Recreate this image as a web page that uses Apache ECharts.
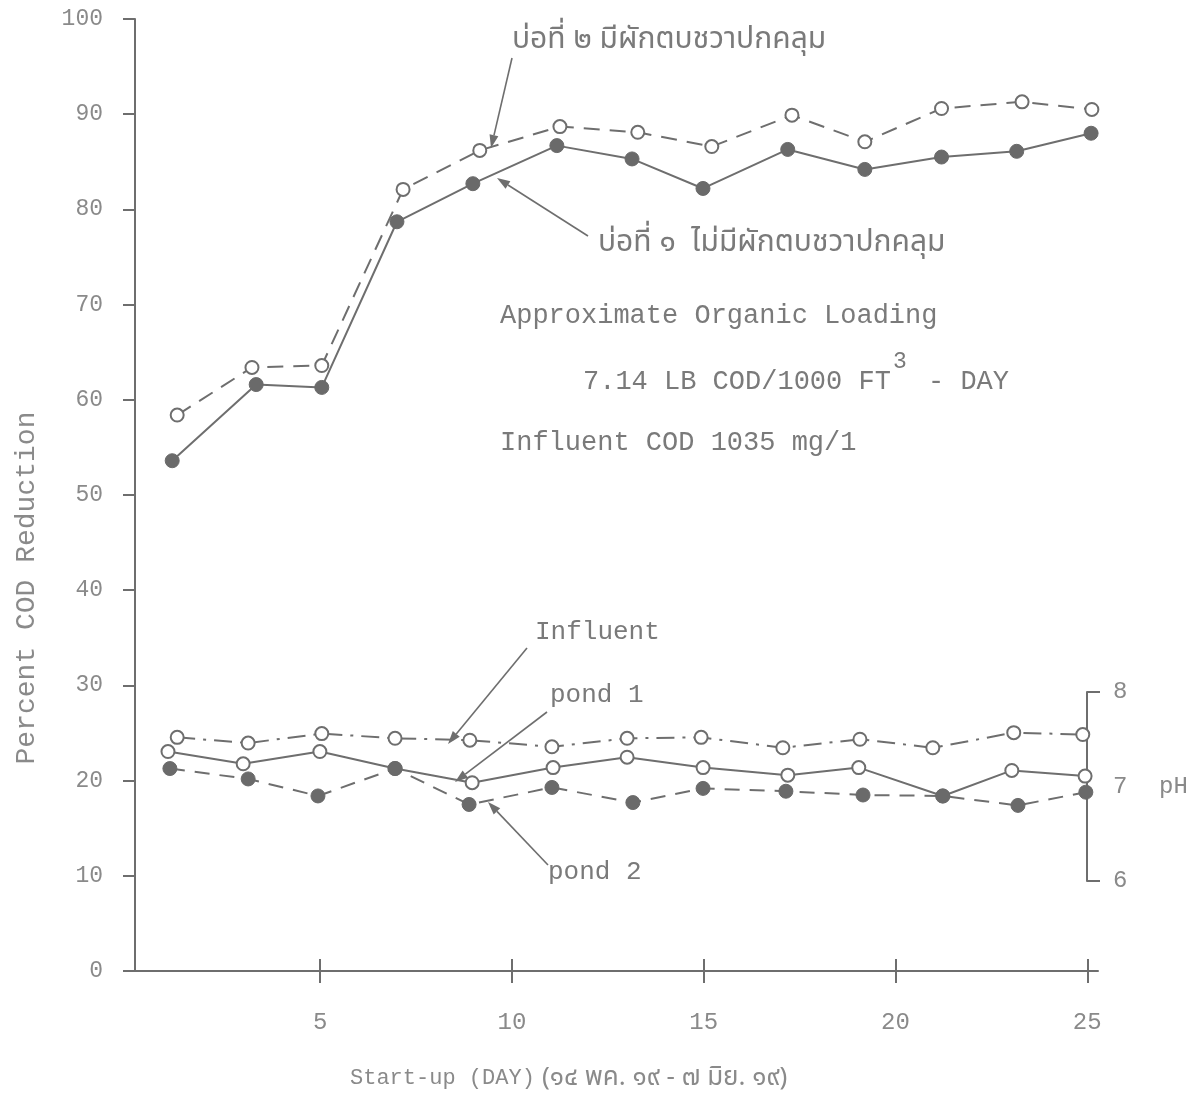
<!DOCTYPE html>
<html><head><meta charset="utf-8">
<script src="https://cdn.jsdelivr.net/npm/echarts@6/dist/echarts.min.js"></script>
<style>html,body{margin:0;padding:0;background:#fff}#c{width:1193px;height:1100px}</style>
</head><body><div id="c"></div><script>
// ---- tick labels ----
const xTickDays = [5, 10, 15, 20, 25];
const phTickValues = [6, 8];
// ---- COD reduction (%) ----
const pond2CodDays   = [1.27, 3.22, 5.04, 7.16, 9.16, 11.25, 13.28, 15.21, 17.3, 19.2, 21.2, 23.3, 25.12];
const pond2CodValues = [58.4, 63.4, 63.6, 82.1, 86.2, 88.7, 88.1, 86.6, 89.9, 87.1, 90.6, 91.3, 90.5];
const pond1CodDays   = [1.14, 3.33, 5.04, 7.0, 8.98, 11.17, 13.13, 14.98, 17.19, 19.2, 21.2, 23.16, 25.1];
const pond1CodValues = [53.6, 61.6, 61.3, 78.7, 82.7, 86.7, 85.3, 82.2, 86.3, 84.2, 85.5, 86.1, 88.0];
// ---- pH ----
const influentPhDays = [1.27, 3.12, 5.04, 6.95, 8.9, 11.04, 13.0, 14.93, 17.06, 19.07, 20.97, 23.08, 24.88];
const influentPh     = [7.52, 7.46, 7.56, 7.51, 7.49, 7.42, 7.51, 7.52, 7.41, 7.50, 7.41, 7.57, 7.55];
const pond1PhDays    = [1.03, 2.99, 4.99, 6.95, 8.96, 11.07, 13.0, 14.98, 17.19, 19.04, 21.23, 23.03, 24.94];
const pond1Ph        = [7.37, 7.24, 7.37, 7.19, 7.04, 7.20, 7.31, 7.20, 7.12, 7.20, 6.90, 7.17, 7.11];
const pond2PhDays    = [1.08, 3.12, 4.94, 6.95, 8.88, 11.04, 13.15, 14.98, 17.14, 19.15, 21.23, 23.19, 24.96];
const pond2Ph        = [7.19, 7.08, 6.90, 7.19, 6.81, 6.99, 6.83, 6.98, 6.95, 6.91, 6.90, 6.80, 6.94];

const LINE = '#6e6e6e', TXT = '#8a8a8a', ANN = '#7a7a7a';
const MONO = '"Liberation Mono", "DejaVu Sans Mono", monospace';
const THAI = '"Noto Sans Thai", "Noto Sans Thai Looped", "Noto Sans", "DejaVu Sans", sans-serif';
const zip = (a, b) => a.map((v, i) => [v, b[i]]);

function openStyle() { return { color: '#fff', borderColor: LINE, borderWidth: 2 }; }
function fillStyle() { return { color: '#6a6a6a', borderColor: '#6a6a6a', borderWidth: 1 }; }

function arrow(x1, y1, x2, y2) {
  const a = Math.atan2(y2 - y1, x2 - x1), L = 13, W = 4.5;
  const bx = x2 - L * Math.cos(a), by = y2 - L * Math.sin(a);
  const s = Math.sin(a), c = Math.cos(a);
  return [
    { type: 'line', shape: { x1, y1, x2: bx, y2: by }, style: { stroke: LINE, lineWidth: 1.6 } },
    { type: 'polygon', shape: { points: [[x2, y2], [bx + W * s, by - W * c], [bx - W * s, by + W * c]] }, style: { fill: LINE } }
  ];
}
function txt(x, y, text, size, family, color, extra) {
  return Object.assign({ type: 'text', x, y, style: { text, fontSize: size, fontFamily: family, fill: color || ANN, align: 'left', verticalAlign: 'middle' } }, extra || {});
}

const chart = echarts.init(document.getElementById('c'), null, { renderer: 'canvas' });
chart.setOption({
  animation: false,
  backgroundColor: '#fff',
  grid: [
    { left: 135, top: 19, width: 963, height: 952 },
    { left: 135, top: 692, width: 952, height: 189 }
  ],
  xAxis: [
    { gridIndex: 0, type: 'value', min: 0.17, max: 25.28, position: 'bottom',
      axisLine: { show: true, lineStyle: { color: LINE, width: 2 } },
      axisTick: { show: true, customValues: xTickDays, length: 12, lineStyle: { color: LINE, width: 2 } },
      axisLabel: { customValues: xTickDays, margin: 40, fontSize: 24, fontFamily: MONO, color: TXT },
      splitLine: { show: false } },
    { gridIndex: 0, type: 'value', min: 0.17, max: 25.28, position: 'bottom',
      axisLine: { show: false },
      axisTick: { show: true, inside: true, customValues: xTickDays, length: 12, lineStyle: { color: LINE, width: 2 } },
      axisLabel: { show: false }, splitLine: { show: false } },
    { gridIndex: 1, type: 'value', min: 0.17, max: 24.99, show: false }
  ],
  yAxis: [
    { gridIndex: 0, type: 'value', min: 0, max: 100, interval: 10,
      axisLine: { show: true, lineStyle: { color: LINE, width: 2 } },
      axisTick: { show: true, length: 12, lineStyle: { color: LINE, width: 2 } },
      axisLabel: { margin: 32, fontSize: 23, fontFamily: MONO, color: TXT },
      splitLine: { show: false } },
    { gridIndex: 1, type: 'value', min: 6, max: 8, interval: 1, position: 'right',
      axisLine: { show: true, lineStyle: { color: LINE, width: 2 } },
      axisTick: { show: true, customValues: phTickValues, length: 13, lineStyle: { color: LINE, width: 2 } },
      axisLabel: { margin: 26, fontSize: 24, fontFamily: MONO, color: TXT },
      name: 'pH', nameLocation: 'middle', nameRotate: 0, nameGap: 72,
      nameTextStyle: { fontSize: 24, fontFamily: MONO, color: TXT },
      splitLine: { show: false } }
  ],
  series: [
    { name: 'บ่อที่ ๑', type: 'line', xAxisIndex: 0, yAxisIndex: 0, data: zip(pond1CodDays, pond1CodValues),
      symbol: 'circle', symbolSize: 14, itemStyle: fillStyle(), lineStyle: { color: LINE, width: 2 } },
    { name: 'บ่อที่ ๒', type: 'line', xAxisIndex: 0, yAxisIndex: 0, data: zip(pond2CodDays, pond2CodValues),
      symbol: 'circle', symbolSize: 13, itemStyle: openStyle(), lineStyle: { color: LINE, width: 2, type: [16, 10] } },
    { name: 'Influent', type: 'line', xAxisIndex: 2, yAxisIndex: 1, data: zip(influentPhDays, influentPh),
      symbol: 'circle', symbolSize: 13, itemStyle: openStyle(), lineStyle: { color: LINE, width: 2, type: [18, 8, 3, 8] } },
    { name: 'pond 1', type: 'line', xAxisIndex: 2, yAxisIndex: 1, data: zip(pond1PhDays, pond1Ph),
      symbol: 'circle', symbolSize: 13, itemStyle: openStyle(), lineStyle: { color: LINE, width: 2 } },
    { name: 'pond 2', type: 'line', xAxisIndex: 2, yAxisIndex: 1, data: zip(pond2PhDays, pond2Ph),
      symbol: 'circle', symbolSize: 14, itemStyle: fillStyle(), lineStyle: { color: LINE, width: 2, type: [15, 10] } }
  ],
  graphic: [
    txt(27, 588, 'Percent COD Reduction', 28, MONO, TXT, { rotation: Math.PI / 2, style: { text: 'Percent COD Reduction', fontSize: 28, fontFamily: MONO, fill: TXT, align: 'center', verticalAlign: 'middle' } }),
    txt(350, 1078, 'Start-up (DAY)', 22, MONO, TXT),
    txt(542, 1080, '(๑๔ พค. ๑๙ - ๗ มิย. ๑๙)', 26, THAI, TXT),
    txt(512, 42, 'บ่อที่ ๒ มีผักตบชวาปกคลุม', 30, THAI),
    txt(598, 245, 'บ่อที่ ๑  ไม่มีผักตบชวาปกคลุม', 30, THAI),
    txt(500, 316, 'Approximate Organic Loading', 27, MONO),
    txt(583, 382, '7.14 LB COD/1000 FT', 27, MONO),
    txt(893, 362, '3', 23, MONO),
    txt(928, 382, '- DAY', 27, MONO),
    txt(500, 443, 'Influent COD 1035 mg/1', 27, MONO),
    txt(535, 632, 'Influent', 26, MONO),
    txt(550, 695, 'pond 1', 26, MONO),
    txt(548, 872, 'pond 2', 26, MONO),
    ...arrow(512, 58, 491, 148),
    ...arrow(588, 236, 497, 178),
    ...arrow(527, 648, 448, 744),
    ...arrow(547, 712, 455, 782),
    ...arrow(548, 865, 488, 802)
  ]
});
</script></body></html>
